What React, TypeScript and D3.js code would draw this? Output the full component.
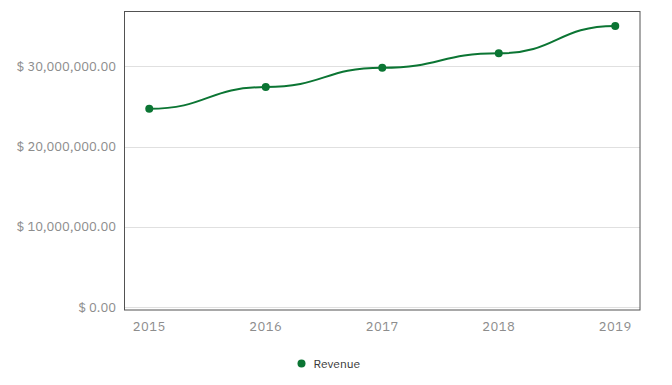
import React, { useEffect, useRef } from "react";
import * as d3 from "d3";

const years = ["2015", "2016", "2017", "2018", "2019"];
const revenue = [24700000, 27400000, 29800000, 31600000, 35000000];
const yTicks = [0, 10000000, 20000000, 30000000];
const seriesName = "Revenue";

const W = 672;
const H = 385;
const GREEN = "#0b7533";

const App = () => {
  const svgRef = useRef<SVGSVGElement>(null);

  useEffect(() => {
    const svg = d3.select(svgRef.current);
    svg.selectAll("*").remove();

    const left = 124.5, right = 640, top = 11.5, bottom = 310;
    const font = "'IBM Plex Sans', Roboto, 'Noto Sans', sans-serif";

    const x = d3.scalePoint<string>().domain(years).range([left, right]).padding(0.2125);
    const y = d3.scaleLinear().domain([0, 36800000]).range([307.3, top]);

    // grid
    svg.append("g")
      .selectAll("line")
      .data(yTicks)
      .join("line")
      .attr("x1", left)
      .attr("x2", right)
      .attr("y1", d => Math.round(y(d)) + 0.5)
      .attr("y2", d => Math.round(y(d)) + 0.5)
      .attr("stroke", "#e0e0e0")
      .attr("stroke-width", 1);

    // frame
    svg.append("rect")
      .attr("x", left)
      .attr("y", top)
      .attr("width", right - left)
      .attr("height", bottom - top)
      .attr("fill", "none")
      .attr("stroke", "#525252")
      .attr("stroke-width", 1);

    const fmt = (v: number) => "$ " + d3.format(",.2f")(v);

    svg.append("g")
      .selectAll("text")
      .data(yTicks)
      .join("text")
      .attr("x", 116)
      .attr("y", d => y(d))
      .attr("dy", "0.35em")
      .attr("text-anchor", "end")
      .attr("fill", "#8d8d8d")
      .style("font-family", font)
      .style("font-size", "13px")
      .text(fmt);

    svg.append("g")
      .selectAll("text")
      .data(years)
      .join("text")
      .attr("x", d => x(d)!)
      .attr("y", 326)
      .attr("dy", "0.35em")
      .attr("text-anchor", "middle")
      .attr("fill", "#8d8d8d")
      .style("font-family", font)
      .style("font-size", "13px")
      .style("letter-spacing", "0.4px")
      .text(d => d);

    const data = years.map((yr, i) => ({ yr, v: revenue[i] }));

    const line = d3.line<{ yr: string; v: number }>()
      .x(d => x(d.yr)!)
      .y(d => y(d.v))
      .curve(d3.curveBumpX);

    svg.append("path")
      .datum(data)
      .attr("d", line)
      .attr("fill", "none")
      .attr("stroke", GREEN)
      .attr("stroke-width", 2);

    svg.append("g")
      .selectAll("circle")
      .data(data)
      .join("circle")
      .attr("cx", d => x(d.yr)!)
      .attr("cy", d => y(d.v))
      .attr("r", 4)
      .attr("fill", GREEN);

    // legend
    svg.append("circle")
      .attr("cx", 301.5)
      .attr("cy", 363.5)
      .attr("r", 4)
      .attr("fill", GREEN);
    svg.append("text")
      .attr("x", 313.5)
      .attr("y", 363.5)
      .attr("dy", "0.35em")
      .attr("fill", "#393939")
      .style("font-family", font)
      .style("font-size", "12px")
      .text(seriesName);
  }, []);

  return (
    <svg
      ref={svgRef}
      width={W}
      height={H}
      style={{ position: "absolute", left: 0, top: 0, background: "#fff" }}
    />
  );
};

export default App;
